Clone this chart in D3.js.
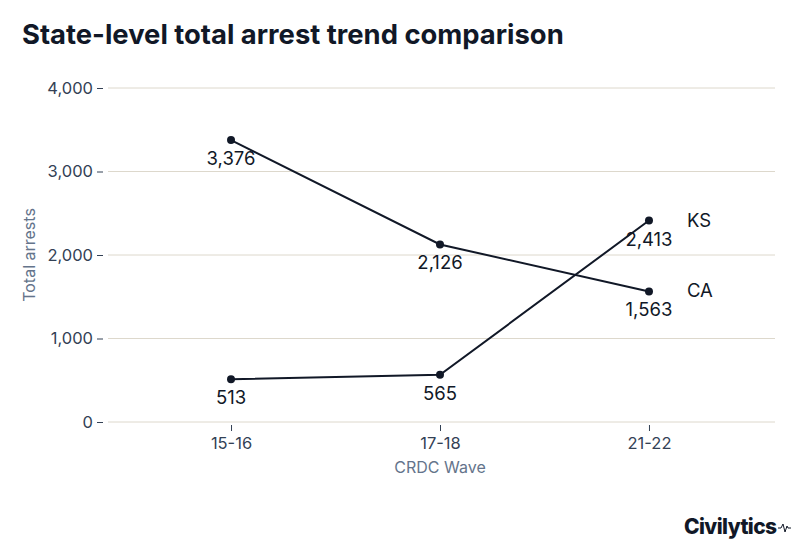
<!DOCTYPE html>
<html>
<head>
<meta charset="utf-8">
<script src="https://cdn.jsdelivr.net/npm/d3@7"></script>
<style>
  body { margin: 0; background: #fff; font-family: Inter, "Noto Sans", sans-serif; }
</style>
</head>
<body>
<div id="viz"></div>
<script>
var waves = ["15-16", "17-18", "21-22"];
var caValues = [3376, 2126, 1563];
var ksValues = [513, 565, 2413];
var yTicks = [0, 1000, 2000, 3000, 4000];

var width = 800, height = 552;
var margin = { top: 88, right: 25, bottom: 130, left: 105 };

var svg = d3.select("#viz").append("svg")
  .attr("width", width).attr("height", height);

var x = d3.scalePoint().domain(waves)
  .range([margin.left, width - margin.right]).padding(0.603);
var y = d3.scaleLinear().domain([0, 4000])
  .range([height - margin.bottom, margin.top]);

var ink = "#111827", axisInk = "#334155";

svg.append("text").attr("x", 22).attr("y", 44)
  .style("font-size", "27.4px").style("font-weight", 700).style("fill", ink)
  .text("State-level total arrest trend comparison");

// gridlines
svg.append("g").selectAll("line").data(yTicks).join("line")
  .attr("x1", margin.left + 3).attr("x2", width - margin.right)
  .attr("y1", d => y(d)).attr("y2", d => y(d))
  .attr("stroke", "#ddd8cc").attr("stroke-width", 1);

var yAxis = svg.append("g").attr("transform", "translate(" + (margin.left - 2) + ",0)")
  .call(d3.axisLeft(y).tickValues(yTicks).tickFormat(d3.format(",")).tickSize(6).tickPadding(4));
yAxis.select(".domain").remove();
yAxis.selectAll("line").attr("stroke", axisInk);
yAxis.selectAll("text").style("font-size", "16.5px").style("fill", axisInk)
  .style("font-family", "Inter, sans-serif");

var xAxis = svg.append("g").attr("transform", "translate(0," + (y(0) + 3) + ")")
  .call(d3.axisBottom(x).tickSize(6).tickPadding(6));
xAxis.select(".domain").remove();
xAxis.selectAll("line").attr("stroke", axisInk);
xAxis.selectAll("text").style("font-size", "16.5px").style("fill", axisInk)
  .style("font-family", "Inter, sans-serif");

svg.append("text").attr("x", (margin.left + width - margin.right) / 2).attr("y", 473)
  .attr("text-anchor", "middle").style("font-size", "16px").style("fill", "#64748b")
  .text("CRDC Wave");
svg.append("text").attr("transform", "translate(35," + y(2000) + ") rotate(-90)")
  .attr("text-anchor", "middle").style("font-size", "16px").style("fill", "#64748b")
  .text("Total arrests");

var line = d3.line().x((d, i) => x(waves[i])).y(d => y(d));
[{ name: "CA", vals: caValues }, { name: "KS", vals: ksValues }].forEach(function (s) {
  svg.append("path").attr("d", line(s.vals)).attr("fill", "none")
    .attr("stroke", ink).attr("stroke-width", 2);
  svg.append("g").selectAll("circle").data(s.vals).join("circle")
    .attr("cx", (d, i) => x(waves[i])).attr("cy", d => y(d)).attr("r", 4).attr("fill", ink);
  svg.append("g").selectAll("text").data(s.vals).join("text")
    .attr("x", (d, i) => x(waves[i])).attr("y", d => y(d) + 25)
    .attr("text-anchor", "middle").style("font-size", "18.5px").style("fill", ink)
    .text(d3.format(","));
  var last = s.vals[s.vals.length - 1];
  svg.append("text").attr("x", x(waves[2]) + 38).attr("y", y(last) + 6)
    .style("font-size", "18.5px").style("fill", ink).text(s.name);
});

// logo
svg.append("text").attr("x", 684).attr("y", 534)
  .style("font-size", "21px").style("font-weight", 800).style("fill", ink)
  .style("letter-spacing", "-0.6px").text("Civilytics");
svg.append("path").attr("d", "M778,528 h3 l2,-4 l2,8 l2,-6 l1,2 h3")
  .attr("fill", "none").attr("stroke", ink).attr("stroke-width", 1);
</script>
</body>
</html>
